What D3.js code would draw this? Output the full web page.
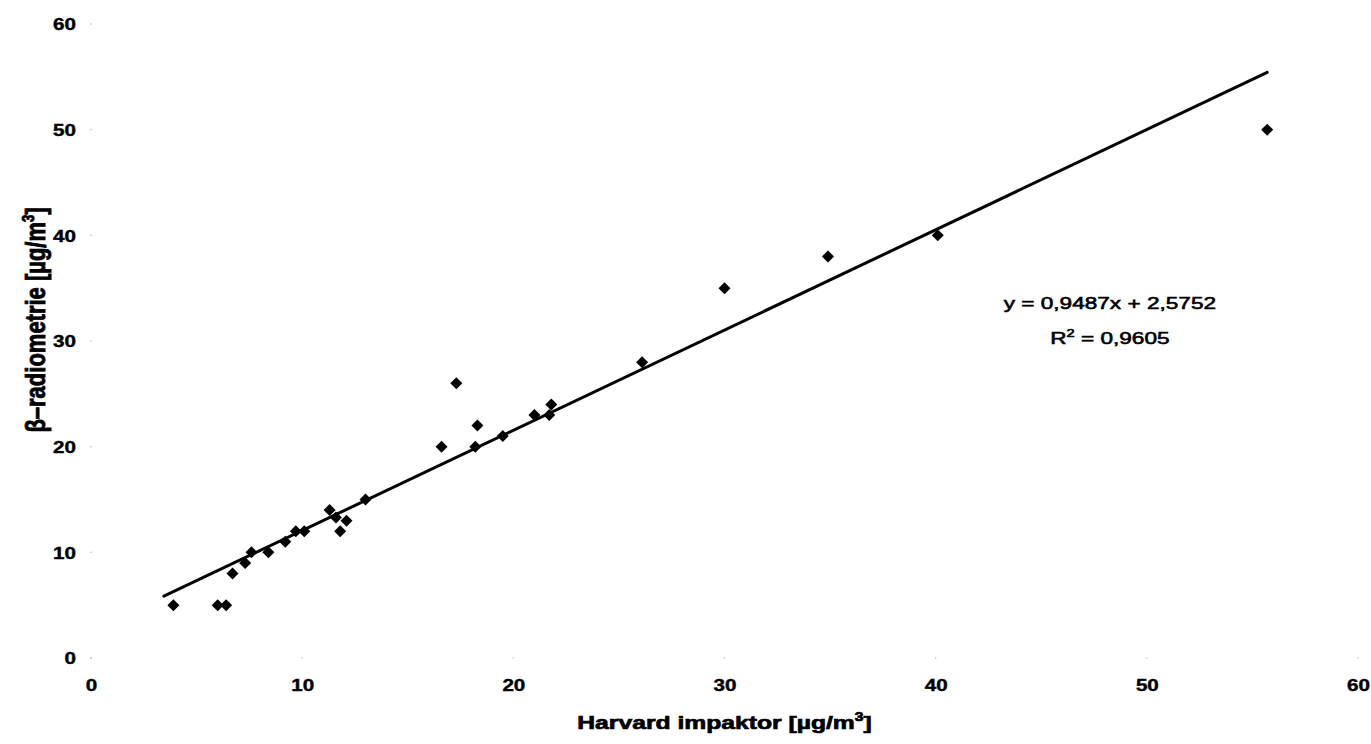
<!DOCTYPE html>
<html>
<head>
<meta charset="utf-8">
<script src="https://cdn.jsdelivr.net/npm/d3@7"></script>
<style>
  body { margin: 0; background: #fff; }
  svg text { font-family: "Liberation Sans", Arial, sans-serif; fill: #000; }
</style>
</head>
<body>
<div id="chart"></div>
<script>
// values
const harvard = [3.9, 6.0, 6.4, 6.7, 7.3, 7.6, 8.4, 9.2, 9.7, 10.1, 11.3, 11.6, 12.1, 11.8,
                 13.0, 16.6, 17.3, 18.2, 18.3, 19.5, 21.0, 21.7, 21.8, 26.1, 30.0, 34.9, 40.1, 55.7];
const beta = [5, 5, 5, 8, 9, 10, 10, 11, 12, 12, 14, 13.3, 13, 12,
              15, 20, 26, 20, 22, 21, 23, 23, 24, 28, 35, 38, 40, 50];
const xTicks = [0, 10, 20, 30, 40, 50, 60];
const yTicks = [0, 10, 20, 30, 40, 50, 60];
const slope = 0.9487;
const intercept = 2.5752;
const trendRange = [3.45, 55.7];
const eqLabel = "y = 0,9487x + 2,5752";
const r2Value = "0,9605";

const width = 1371, height = 744;
const margin = { top: 24, right: 13, bottom: 86, left: 91 };
const stretch = 1.25; // the reference is widened horizontally

const svg = d3.select("#chart")
    .append("svg")
    .attr("width", width)
    .attr("height", height);

const x = d3.scaleLinear()
    .domain([0, 60])
    .range([margin.left, width - margin.right]);

const y = d3.scaleLinear()
    .domain([0, 60])
    .range([height - margin.bottom, margin.top]);

// x axis: no line, just labels and faint tick dots
const xAxis = svg.append("g")
    .attr("transform", `translate(0,${y(0)})`)
    .call(d3.axisBottom(x).tickValues(xTicks).tickSize(0).tickFormat(d3.format("d")));
xAxis.select(".domain").remove();
xAxis.selectAll("text")
    .attr("y", 21)
    .attr("dy", "0.71em")
    .attr("font-size", 16.5)
    .attr("font-weight", "bold")
    .attr("font-family", "Liberation Sans, Arial, sans-serif")
    .attr("stroke", "#000")
    .attr("stroke-width", 0.4)
    .attr("transform", `scale(${stretch},1)`);

const yAxis = svg.append("g")
    .attr("transform", `translate(${x(0)},0)`)
    .call(d3.axisLeft(y).tickValues(yTicks).tickSize(0).tickFormat(d3.format("d")));
yAxis.select(".domain").remove();
yAxis.selectAll("text")
    .attr("x", -15 / stretch)
    .attr("dy", "0.35em")
    .attr("font-size", 16.5)
    .attr("font-weight", "bold")
    .attr("font-family", "Liberation Sans, Arial, sans-serif")
    .attr("stroke", "#000")
    .attr("stroke-width", 0.4)
    .attr("transform", `scale(${stretch},1)`);

// faint dots where the tick marks were
svg.append("g")
    .selectAll("circle")
    .data(xTicks)
    .join("circle")
    .attr("cx", d => x(d))
    .attr("cy", y(0))
    .attr("r", 0.8)
    .attr("fill", "#bbb");
svg.append("g")
    .selectAll("circle")
    .data(yTicks)
    .join("circle")
    .attr("cx", x(0))
    .attr("cy", d => y(d))
    .attr("r", 0.8)
    .attr("fill", "#bbb");

// trend line
svg.append("line")
    .attr("x1", x(trendRange[0]))
    .attr("y1", y(slope * trendRange[0] + intercept))
    .attr("x2", x(trendRange[1]))
    .attr("y2", y(slope * trendRange[1] + intercept))
    .attr("stroke", "#000")
    .attr("stroke-width", 3)
    .attr("stroke-linecap", "round");

// diamond markers
const diamond = d3.symbol(d3.symbolSquare, 72);
svg.append("g")
    .selectAll("path")
    .data(harvard.map((h, i) => ({ h: h, b: beta[i] })))
    .join("path")
    .attr("d", diamond)
    .attr("transform", d => `translate(${x(d.h)},${y(d.b)}) rotate(45)`)
    .attr("fill", "#000");

// equation
const eq = svg.append("g")
    .attr("transform", `translate(${x(48.25)},${y(33.0)}) scale(1.33,1)`)
    .attr("stroke", "#000")
    .attr("stroke-width", 0.6);
eq.append("text")
    .attr("text-anchor", "middle")
    .attr("font-size", 17)
    .text(eqLabel);
const r2 = eq.append("text")
    .attr("y", 35)
    .attr("text-anchor", "middle")
    .attr("font-size", 17);
r2.append("tspan").text("R");
r2.append("tspan").attr("font-size", 11).attr("dy", -7).text("2");
r2.append("tspan").attr("dy", 7).text(" = " + r2Value);

// axis titles
const xTitle = svg.append("text")
    .attr("transform", `translate(${(x(0) + x(60)) / 2},729) scale(1.3,1)`)
    .attr("text-anchor", "middle")
    .attr("font-size", 19)
    .attr("font-weight", "bold")
    .attr("stroke", "#000")
    .attr("stroke-width", 0.7);
xTitle.append("tspan").text("Harvard impaktor [µg/m");
xTitle.append("tspan").attr("font-size", 12).attr("dy", -8).text("3");
xTitle.append("tspan").attr("dy", 8).text("]");

const yTitle = svg.append("text")
    .attr("transform", `translate(45,320) rotate(-90) scale(1,1.25)`)
    .attr("text-anchor", "middle")
    .attr("font-size", 22)
    .attr("font-weight", "bold")
    .attr("stroke", "#000")
    .attr("stroke-width", 0.7);
yTitle.append("tspan").text("β–radiometrie [µg/m");
yTitle.append("tspan").attr("font-size", 13).attr("dy", -9).text("3");
yTitle.append("tspan").attr("dy", 9).text("]");
</script>
</body>
</html>
